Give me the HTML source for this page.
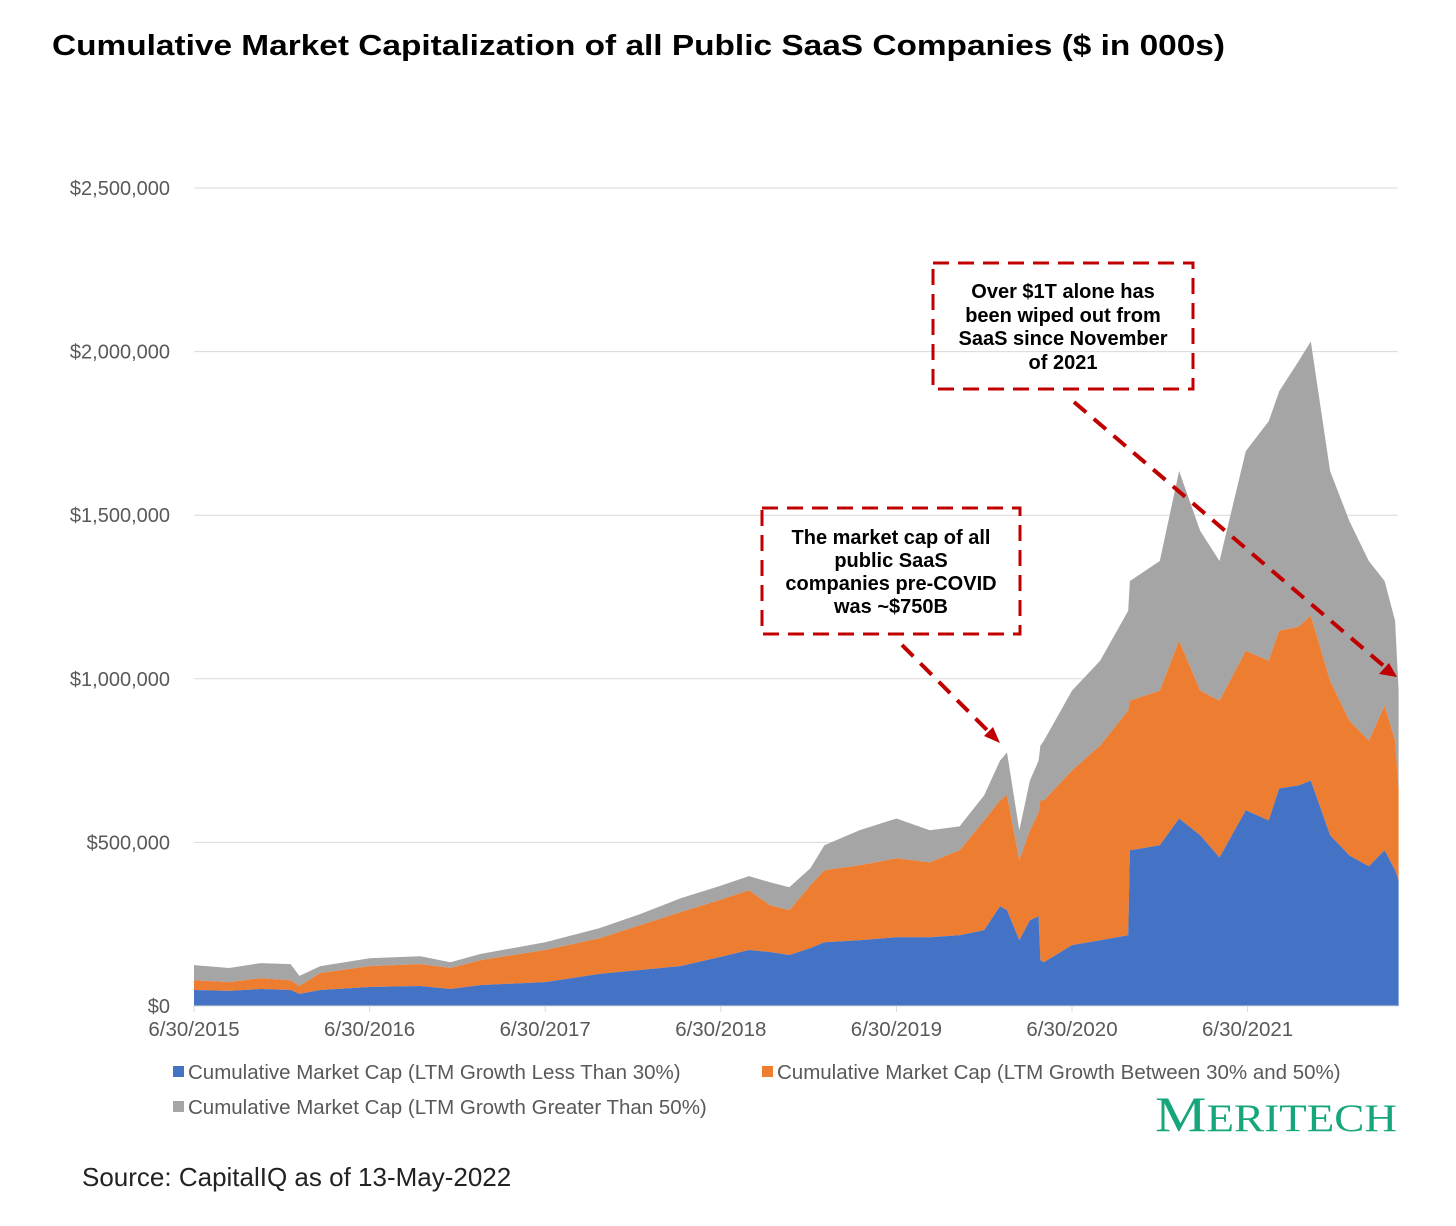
<!DOCTYPE html>
<html><head><meta charset="utf-8"><style>
body{margin:0;background:#fff;width:1456px;height:1226px;overflow:hidden;font-family:"Liberation Sans",Arial,sans-serif}
svg{position:absolute;left:0;top:0}
</style></head><body>
<svg id="chart" width="1456" height="1226">
<text x="52" y="55" font-size="29" font-weight="bold" fill="#000" textLength="1173" lengthAdjust="spacingAndGlyphs">Cumulative Market Capitalization of all Public SaaS Companies ($ in 000s)</text>
<g id="grid"></g><g id="areas"></g><g id="axes"></g>
<g font-size="20" font-weight="bold" text-anchor="middle">
<rect x="933" y="263" width="260" height="126" fill="none" stroke="#c00000" stroke-width="3" stroke-dasharray="16,9"/>
<text x="1063" y="298">Over $1T alone has</text>
<text x="1063" y="322">been wiped out from</text>
<text x="1063" y="345">SaaS since November</text>
<text x="1063" y="369">of 2021</text>
<line x1="1074" y1="402" x2="1385" y2="667" stroke="#c00000" stroke-width="4" stroke-dasharray="16,10"/>
<polygon points="1397,677 1379,674 1389,663" fill="#c00000"/>
</g>
<g font-size="20" font-weight="bold" text-anchor="middle">
<rect x="762" y="508" width="258" height="126" fill="none" stroke="#c00000" stroke-width="3" stroke-dasharray="16,9"/>
<text x="891" y="544">The market cap of all</text>
<text x="891" y="567">public SaaS</text>
<text x="891" y="590">companies pre-COVID</text>
<text x="891" y="613">was ~$750B</text>
<line x1="902" y1="645" x2="990" y2="733" stroke="#c00000" stroke-width="4" stroke-dasharray="16,10"/>
<polygon points="1000,743 984,736 993,727" fill="#c00000"/>
</g>
<g font-size="20.5" fill="#595959">
<g><rect x="173" y="1066" width="11" height="11" fill="#4472c4"/><text x="188" y="1079">Cumulative Market Cap (LTM Growth Less Than 30%)</text></g>
<g><rect x="762" y="1066" width="11" height="11" fill="#ed7d31"/><text x="777" y="1079">Cumulative Market Cap (LTM Growth Between 30% and 50%)</text></g>
<g><rect x="173" y="1101" width="11" height="11" fill="#a5a5a5"/><text x="188" y="1114">Cumulative Market Cap (LTM Growth Greater Than 50%)</text></g>
</g>
<text x="1397" y="1131" text-anchor="end" font-family="Liberation Serif,serif" fill="#17a67c" textLength="242" lengthAdjust="spacingAndGlyphs"><tspan font-size="50">M</tspan><tspan font-size="39">ERITECH</tspan></text>
<text x="82" y="1186" font-size="26" fill="#222">Source: CapitalIQ as of 13-May-2022</text>
</svg>
<script>
const dates=[2015.50,2015.70,2015.88,2016.05,2016.10,2016.22,2016.50,2016.79,2016.96,2017.13,2017.50,2017.81,2018.04,2018.27,2018.49,2018.66,2018.78,2018.89,2019.01,2019.09,2019.29,2019.50,2019.69,2019.86,2020.00,2020.09,2020.13,2020.20,2020.26,2020.31,2020.32,2020.34,2020.50,2020.66,2020.82,2020.83,2021.00,2021.11,2021.23,2021.34,2021.49,2021.62,2021.68,2021.79,2021.86,2021.97,2022.08,2022.19,2022.28,2022.34,2022.36];
const lowGrowth=[49,46,52,49,37,49,58,61,52,64,73,98,110,122,149,171,165,156,177,195,201,210,210,216,232,305,293,201,262,274,140,134,186,201,216,476,491,573,522,454,598,567,665,674,689,522,460,427,476,415,384];
const midGrowth=[30,27,33,30,24,52,64,67,64,76,98,109,137,165,174,183,143,137,192,220,229,241,229,260,335,323,351,244,275,318,488,494,534,595,687,457,473,543,442,479,488,488,482,485,504,472,412,384,442,396,275];
const highGrowth=[46,43,46,49,31,21,24,24,18,19,24,31,34,42,43,43,70,70,52,76,107,122,98,73,77,122,131,92,152,158,168,183,244,259,305,366,396,519,488,427,610,732,732,811,838,641,610,549,381,366,305];
const yTicks=[0,500000,1000000,1500000,2000000,2500000];
const xTickYears=[2015.5,2016.5,2017.5,2018.5,2019.5,2020.5,2021.5];
const xTickLabels=["6/30/2015","6/30/2016","6/30/2017","6/30/2018","6/30/2019","6/30/2020","6/30/2021"];
const NS="http://www.w3.org/2000/svg";
const X=t=>194+(t-2015.5)*175.6;
const Y=v=>1006-v/2500000*818;
const K=1000;
function mk(tag,attrs,parent){const e=document.createElementNS(NS,tag);for(const k in attrs)e.setAttribute(k,attrs[k]);parent.appendChild(e);return e;}
const grid=document.getElementById('grid'),axes=document.getElementById('axes'),areas=document.getElementById('areas');
yTicks.forEach(v=>{
  if(v>0){const l=mk('line',{x1:194,x2:1398,y1:Y(v),y2:Y(v),stroke:'#d9d9d9','stroke-width':1},grid);
  
  }
  const t=mk('text',{x:170,y:Y(v)+7,'font-size':20,fill:'#595959','text-anchor':'end'},axes);
  t.textContent='$'+v.toLocaleString('en-US');
  
  
});
const base=dates.map(()=>0);
const s1=lowGrowth.map(v=>v*K), s2=lowGrowth.map((v,i)=>(v+midGrowth[i])*K), s3=lowGrowth.map((v,i)=>(v+midGrowth[i]+highGrowth[i])*K);
function area(top,bot,color,name){
  let d='M'+dates.map((t,i)=>X(t).toFixed(1)+','+Y(top[i]).toFixed(1)).join('L');
  for(let i=dates.length-1;i>=0;i--)d+='L'+X(dates[i]).toFixed(1)+','+Y(bot[i]).toFixed(1);
  const p=mk('path',{d:d+'Z',fill:color},areas);
  
  
}
area(s3,s2,'#a5a5a5','area-high-growth');
area(s2,s1,'#ed7d31','area-mid-growth');
area(s1,base,'#4472c4','area-low-growth');
const ax=mk('line',{x1:194,x2:1398,y1:1006,y2:1006,stroke:'#d9d9d9','stroke-width':1},axes);


xTickYears.forEach((t,i)=>{
  const tk=mk('line',{x1:X(t),x2:X(t),y1:1006,y2:1012,stroke:'#d9d9d9'},axes);
  
  
  const tx=mk('text',{x:X(t),y:1036,'font-size':20.5,fill:'#595959','text-anchor':'middle'},axes);
  tx.textContent=xTickLabels[i];
  
  
});
</script>
</body></html>
